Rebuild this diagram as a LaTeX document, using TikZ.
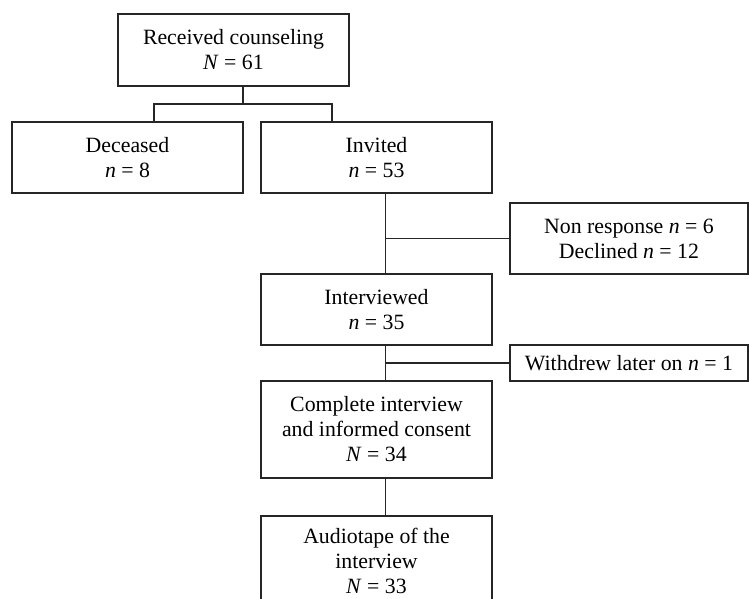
\documentclass[tikz,border=0pt]{standalone}
\usepackage{fontspec}
\setmainfont{Liberation Serif}
\usepackage{tikz}
\usetikzlibrary{positioning,calc}

\tikzset{
    box/.style={draw=black!85, line width=0.75pt, inner sep=0pt, align=center,
        font=\fontsize{10.9}{12.5}\selectfont},
    link/.style={draw=black!85, line width=0.75pt}
}

\begin{document}
\begin{tikzpicture}[x=0.5pt, y=-0.5pt]
    \useasboundingbox (0,0) rectangle (749,599);
    \clip (0,0) rectangle (749,599);
    \fill[white] (0,0) rectangle (749,599);
    % boxes
    \node[box, minimum width=115.5pt, minimum height=36pt] (recv) at (233.5,50) {Received counseling\\\textit{N} = 61};
    \node[box, minimum width=115.5pt, minimum height=35.5pt] (dec) at (127.5,157.5) {Deceased\\\textit{n} = 8};
    \node[box, minimum width=115.5pt, minimum height=35.5pt] (inv) at (376.5,157.5) {Invited\\\textit{n} = 53};
    \node[box, minimum width=119pt, minimum height=35.5pt] (nonr) at (629,238.5) {Non response \textit{n} = 6\\Declined \textit{n} = 12};
    \node[box, minimum width=115.5pt, minimum height=35.5pt] (intv) at (376.5,309.5) {Interviewed\\\textit{n} = 35};
    \node[box, minimum width=119pt, minimum height=18pt] (wd) at (629,363) {Withdrew later on \textit{n} = 1};
    \node[box, minimum width=115.5pt, minimum height=48.5pt] (comp) at (376.5,429.5) {Complete interview\\and informed consent\\\textit{N} = 34};
    % bottom box runs past the page edge
    \node[box, minimum width=115.5pt, minimum height=45pt] (audio) at (376.5,561) {Audiotape of the\\interview\\\textit{N} = 33};
    % connectors
    \coordinate (split) at (243,104);
    \coordinate (jl) at (154,104);
    \coordinate (jr) at (332,104);
    \coordinate (trunk) at (385.5,0);
    \draw[link] (split |- recv.south) -- (split);
    \draw[link] (jl |- dec.north) -- (jl) -- (jr) -- (jr |- inv.north);
    \draw[link] (trunk |- inv.south) -- (trunk |- intv.north);
    \draw[link] (trunk |- nonr.west) -- (nonr.west);
    \draw[link] (trunk |- intv.south) -- (trunk |- comp.north);
    \draw[link] (trunk |- wd.west) -- (wd.west);
    \draw[link] (trunk |- comp.south) -- (trunk |- audio.north);
\end{tikzpicture}
\end{document}
